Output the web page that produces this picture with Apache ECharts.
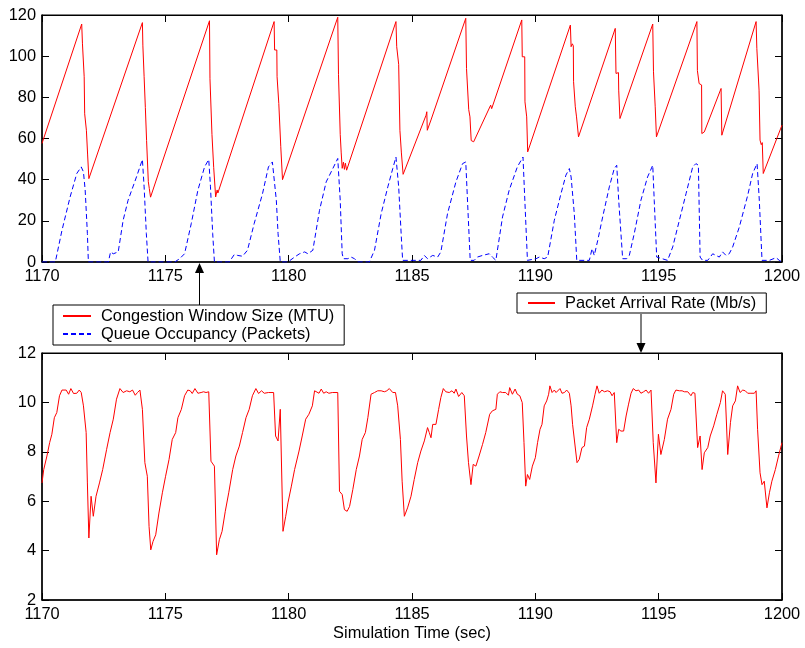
<!DOCTYPE html>
<html>
<head>
<meta charset="utf-8">
<script src="https://cdn.jsdelivr.net/npm/echarts@6/dist/echarts.min.js"></script>
<style>
html,body{margin:0;padding:0;background:#fff;}
#chart{width:805px;height:648px;}
</style>
</head>
<body>
<div id="chart"></div>
<script>
// ---- Data (time in sec, values) ----
const cwndData = [
[1170.00,57.6],[1171.61,115.6],[1171.63,116],[1171.64,106],[1171.70,106],[1171.71,90],[1171.73,72],[1171.79,72],[1171.80,64],[1171.84,64],[1171.85,52],[1171.88,52],[1171.90,40.5],[1171.92,40.3],
[1174.07,116.3],[1174.08,116],[1174.09,105],[1174.13,105],[1174.14,90],[1174.18,90],[1174.19,75],[1174.23,75],[1174.24,59],[1174.29,59],[1174.31,39],[1174.35,35.7],[1174.40,31.5],
[1176.79,117.2],[1176.80,117],[1176.81,89],[1176.88,89],[1176.89,62],[1176.95,62],[1176.96,46],[1177.02,46],[1177.04,31.6],[1177.07,31.6],[1177.10,35],[1177.13,33.5],
[1179.41,116.8],[1179.42,117],[1179.43,103],[1179.52,103],[1179.53,90],[1179.59,90],[1179.60,77],[1179.67,77],[1179.68,56],[1179.73,56],[1179.75,40],[1179.77,39.4],
[1181.99,118.9],[1182.01,119],[1182.02,91],[1182.08,91],[1182.09,62],[1182.12,62],[1182.13,53],[1182.16,53],[1182.17,45.5],[1182.22,48.5],[1182.26,45],[1182.30,48],[1182.35,44.6],
[1184.35,116.8],[1184.37,117],[1184.38,104.6],[1184.45,104.6],[1184.46,96],[1184.50,96],[1184.51,64],[1184.56,64],[1184.57,53],[1184.62,53],[1184.64,42.6],[1184.66,42.6],
[1185.57,71.3],[1185.60,73],[1185.62,64],[1185.67,64.5],[1185.77,69],
[1187.18,118.4],[1187.20,118.4],[1187.21,94],[1187.29,94],[1187.30,74],[1187.34,74],[1187.35,70.5],[1187.39,70.5],[1187.40,59],[1187.45,59.5],[1187.50,58.4],
[1188.19,76.2],[1188.23,74.5],
[1189.45,117.6],[1189.46,117.6],[1189.47,99.7],[1189.57,99.7],[1189.58,77.8],[1189.64,77.8],[1189.65,70.5],[1189.68,70.5],[1189.69,53.5],[1189.73,53.5],
[1191.42,115.1],[1191.44,115.5],[1191.45,104.6],[1191.50,106],[1191.54,105],[1191.55,87.6],[1191.61,87.6],[1191.62,75.4],[1191.66,75.4],[1191.67,70.5],[1191.71,71],[1191.74,70],[1191.75,60.8],[1191.78,61],
[1193.24,113.5],[1193.26,113.5],[1193.27,91.6],[1193.33,92.4],[1193.37,92],[1193.38,83.5],[1193.42,83.5],[1193.43,69.7],[1193.45,69.7],
[1194.76,115.6],[1194.78,115.6],[1194.79,92.4],[1194.85,92.4],[1194.86,75.4],[1194.90,75.4],[1194.91,60.8],[1194.93,60.8],
[1196.55,116.8],[1196.56,116.8],[1196.57,93],[1196.63,93],[1196.64,86.7],[1196.74,86],[1196.75,62.4],[1196.80,62.4],[1196.85,63.2],
[1197.53,84.3],[1197.55,84.3],[1197.56,61.6],[1197.60,61.6],
[1198.95,116.8],[1198.97,116.8],[1198.98,103.8],[1199.06,103],[1199.07,83.5],[1199.10,83.5],[1199.11,59.2],[1199.16,57],[1199.20,58],[1199.22,57.6],[1199.24,43],[1199.28,42.2],
[1200.00,66.5]
];
const queueData = [
[1170.00,0],[1170.54,0],[1170.81,15.4],[1171.14,31.6],[1171.41,43],[1171.59,46.2],[1171.68,43.8],[1171.75,35],[1171.84,13.8],[1171.88,0],
[1172.69,0],[1172.78,4.9],[1172.89,4],[1173.09,4.9],[1173.29,20.3],[1173.49,30],[1173.83,41.3],[1174.07,49.8],[1174.14,36.5],[1174.23,13.8],[1174.30,0],
[1175.38,0],[1175.58,1.6],[1175.78,4],[1176.05,18.6],[1176.32,34.9],[1176.59,46.2],[1176.76,49.8],[1176.83,36.5],[1176.92,13.8],[1176.99,0],
[1177.59,0],[1177.80,3.7],[1177.93,3.2],[1178.13,2.8],[1178.33,5.7],[1178.60,18.6],[1178.94,33.2],[1179.18,46.2],[1179.34,48.6],[1179.50,30],[1179.57,13.8],[1179.66,0],
[1179.97,0],[1180.24,2.4],[1180.44,4],[1180.65,4.9],[1180.78,4],[1180.98,5.7],[1181.25,25.1],[1181.52,38.9],[1181.79,45.4],[1181.99,50.3],[1182.09,30],[1182.17,4],[1182.22,1.6],[1182.40,1.6],[1182.53,2.4],[1182.67,1.6],[1182.80,0],
[1183.27,0],[1183.48,5.7],[1183.75,23.5],[1184.02,36.5],[1184.22,45.4],[1184.35,51],[1184.46,36.5],[1184.56,13.8],[1184.62,0.8],
[1185.36,0.8],[1185.50,3.2],[1185.63,1.6],[1185.84,3.2],[1186.04,2.4],[1186.17,4.9],[1186.44,23.5],[1186.78,38.9],[1187.05,47.8],[1187.18,48.6],[1187.28,21.9],[1187.36,0.8],
[1187.52,0.8],[1187.65,2.4],[1187.86,3.2],[1188.13,4],[1188.26,2.4],[1188.40,0.8],[1188.67,21.9],[1188.94,34.9],[1189.27,46.2],[1189.50,51],[1189.58,28.4],[1189.68,0.8],
[1189.76,1.6],[1190.03,1.6],[1190.16,2.4],[1190.36,1.6],[1190.50,2.4],[1190.77,20.3],[1191.04,33.2],[1191.24,42.2],[1191.38,45.4],[1191.45,41.3],[1191.58,23.5],[1191.68,0.8],
[1192.19,0.8],[1192.30,6.5],[1192.39,3.2],[1192.53,10.5],[1192.73,21.9],[1193.00,36.5],[1193.20,45.4],[1193.30,47],[1193.38,30],[1193.54,1.6],[1193.70,1.6],[1193.81,3.2],[1194.01,13.8],[1194.28,30],[1194.55,41.3],[1194.76,47],[1194.82,30],[1194.92,2.4],
[1195.36,0.8],[1195.57,7.3],[1195.84,20.3],[1196.11,33.2],[1196.38,46.2],[1196.51,47.8],[1196.61,47],[1196.68,2.4],[1196.78,0.8],[1196.99,0.8],[1197.19,4],[1197.32,3.2],[1197.46,2.4],[1197.59,4.9],[1197.73,3.2],[1197.86,4],[1198.00,7.3],[1198.27,17],[1198.61,32.4],[1198.81,43],[1198.99,47.8],[1199.08,30],[1199.19,0.8],
[1199.49,0.8],[1199.76,2.1],[1199.89,0.8],[1200.00,0]
];
const rateData = [
[1170.00,6.74],[1170.07,7.28],[1170.20,7.83],[1170.31,8.37],[1170.40,8.71],[1170.50,9.38],[1170.60,9.59],[1170.71,10.27],[1170.81,10.50],[1170.98,10.50],[1171.08,10.33],[1171.17,10.56],[1171.28,10.36],[1171.41,10.37],[1171.51,10.50],[1171.59,10.40],[1171.68,9.86],[1171.79,8.78],[1171.84,6.74],[1171.90,4.51],[1171.99,6.20],[1172.08,5.39],[1172.19,6.20],[1172.33,6.74],[1172.46,7.28],[1172.62,8.10],[1172.76,8.78],[1172.89,9.32],[1173.02,10.13],[1173.16,10.56],[1173.29,10.40],[1173.43,10.47],[1173.56,10.43],[1173.67,10.50],[1173.78,10.29],[1173.87,10.40],[1173.97,10.50],
[1174.07,9.72],[1174.17,7.56],[1174.27,7.01],[1174.34,4.98],[1174.41,4.03],[1174.50,4.37],[1174.61,4.64],[1174.74,5.52],[1174.88,6.34],[1175.01,7.01],[1175.15,7.69],[1175.28,8.50],[1175.42,8.78],[1175.51,9.38],[1175.65,9.72],[1175.78,10.27],[1175.91,10.50],[1176.01,10.47],[1176.09,10.36],[1176.20,10.56],[1176.32,10.37],[1176.45,10.40],[1176.55,10.43],[1176.65,10.40],[1176.76,10.43],
[1176.85,7.62],[1176.99,7.42],[1177.08,3.83],[1177.19,4.44],[1177.30,4.78],[1177.43,5.59],[1177.57,6.34],[1177.73,7.28],[1177.86,7.83],[1178.00,8.23],[1178.13,8.78],[1178.27,9.38],[1178.40,9.72],[1178.53,10.27],[1178.67,10.56],[1178.78,10.36],[1178.90,10.47],[1179.01,10.37],[1179.18,10.40],[1179.39,10.40],
[1179.47,8.64],[1179.57,8.44],[1179.60,8.44],[1179.66,9.72],[1179.77,4.78],[1179.88,5.39],[1179.97,5.93],[1180.11,6.61],[1180.24,7.28],[1180.42,8.03],[1180.55,8.64],[1180.69,9.32],[1180.82,9.52],[1180.96,9.86],[1181.05,10.47],[1181.12,10.54],[1181.23,10.37],[1181.32,10.54],[1181.42,10.37],[1181.52,10.43],[1181.63,10.37],[1181.77,10.40],[1181.99,10.40],
[1182.06,6.40],[1182.17,6.27],[1182.26,5.66],[1182.37,5.59],[1182.47,5.79],[1182.60,6.47],[1182.74,7.28],[1182.87,7.83],[1182.98,8.50],[1183.11,8.78],[1183.21,9.38],[1183.34,10.33],[1183.48,10.40],[1183.61,10.47],[1183.75,10.47],[1183.88,10.43],[1183.98,10.47],[1184.08,10.56],[1184.22,10.40],[1184.33,10.40],
[1184.42,9.86],[1184.53,8.50],[1184.60,6.81],[1184.69,5.39],[1184.82,5.73],[1184.96,6.20],[1185.09,6.88],[1185.23,7.56],[1185.36,8.03],[1185.50,8.44],[1185.63,8.98],[1185.70,8.78],[1185.77,8.57],[1185.84,9.11],[1185.90,9.05],[1185.97,9.11],[1186.08,9.72],[1186.17,10.20],[1186.27,10.56],[1186.37,10.43],[1186.51,10.40],[1186.62,10.47],[1186.71,10.37],[1186.78,10.54],[1186.89,10.24],[1187.02,10.40],[1187.12,10.27],
[1187.21,8.64],[1187.29,7.56],[1187.39,6.67],[1187.48,7.49],[1187.59,7.42],[1187.72,7.83],[1187.86,8.30],[1187.99,8.78],[1188.15,9.52],[1188.26,9.66],[1188.40,9.72],[1188.46,10.33],[1188.56,10.43],[1188.67,10.40],[1188.80,10.40],[1188.91,10.29],[1188.96,10.60],[1189.07,10.33],[1189.18,10.54],[1189.27,10.33],[1189.37,10.27],[1189.47,9.99],
[1189.54,8.37],[1189.61,6.61],[1189.68,7.08],[1189.77,6.88],[1189.88,7.42],[1190.00,7.76],[1190.09,8.37],[1190.19,8.91],[1190.27,9.11],[1190.36,9.86],[1190.46,10.06],[1190.54,10.33],[1190.59,10.67],[1190.68,10.40],[1190.77,10.50],[1190.84,10.40],[1190.91,10.40],[1191.00,10.56],[1191.08,10.37],[1191.18,10.40],[1191.27,10.50],[1191.38,10.37],
[1191.45,9.86],[1191.51,9.11],[1191.58,9.05],[1191.69,7.56],[1191.78,7.69],[1191.89,8.17],[1191.99,8.23],[1192.08,8.98],[1192.19,9.32],[1192.32,9.86],[1192.42,10.33],[1192.50,10.67],[1192.59,10.37],[1192.70,10.50],[1192.80,10.43],[1192.93,10.47],[1193.03,10.43],[1193.11,10.27],[1193.20,10.40],
[1193.30,8.37],[1193.38,8.91],[1193.47,8.84],[1193.58,8.84],[1193.68,9.45],[1193.78,9.93],[1193.88,10.37],[1193.97,10.56],[1194.08,10.47],[1194.19,10.50],[1194.28,10.37],[1194.39,10.43],[1194.49,10.50],[1194.59,10.37],[1194.69,10.50],
[1194.78,8.37],[1194.89,6.74],[1194.99,8.71],[1195.09,7.89],[1195.23,8.50],[1195.36,9.32],[1195.50,9.72],[1195.61,10.33],[1195.70,10.50],[1195.84,10.47],[1195.95,10.47],[1196.04,10.43],[1196.18,10.43],[1196.31,10.27],[1196.38,10.40],[1196.47,10.37],
[1196.58,8.17],[1196.68,8.64],[1196.76,7.28],[1196.85,7.96],[1196.99,8.17],[1197.09,8.64],[1197.23,9.05],[1197.36,9.52],[1197.50,9.99],[1197.59,10.47],[1197.70,10.33],
[1197.80,7.89],[1197.91,9.18],[1198.00,9.86],[1198.11,10.06],[1198.20,10.67],[1198.30,10.40],[1198.41,10.50],[1198.51,10.47],[1198.61,10.37],[1198.74,10.37],[1198.88,10.37],[1198.95,10.47],
[1199.01,8.91],[1199.11,7.15],[1199.19,6.67],[1199.28,6.81],[1199.39,5.73],[1199.49,6.34],[1199.59,6.81],[1199.73,7.28],[1199.86,7.83],[1200.00,8.37]
];
// ---- Axis ranges / labels ----
const timeRange = [1170, 1200, 5];
const topYRange = [0, 120, 20];
const bottomYRange = [2, 12, 2];
const seriesNames = ['Congestion Window Size (MTU)', 'Queue Occupancy (Packets)', 'Packet Arrival Rate (Mb/s)'];
const xAxisTitle = 'Simulation Time (sec)';

const FONT = '"Liberation Sans", Arial, Helvetica, sans-serif';
const FS = 16.4;
const plain = v => String(v);

function xAx(grid, pos, showLabel, extra) {
  return Object.assign({
    gridIndex: grid, type: 'value', position: pos,
    min: timeRange[0], max: timeRange[1], interval: timeRange[2],
    axisLine: { show: true, onZero: false, lineStyle: { color: '#000', width: pos === 'top' ? 1 : 1.5 } },
    axisTick: { show: true, inside: true, length: 7, lineStyle: { color: '#000', width: 1 } },
    axisLabel: { show: showLabel, color: '#000', fontSize: FS, fontFamily: FONT, margin: 6, formatter: plain },
    splitLine: { show: false }
  }, extra || {});
}
function yAx(grid, pos, range, showLabel) {
  return {
    gridIndex: grid, type: 'value', position: pos,
    min: range[0], max: range[1], interval: range[2],
    axisLine: { show: true, onZero: false, lineStyle: { color: '#000', width: 1.5 } },
    axisTick: { show: true, inside: true, length: 7, lineStyle: { color: '#000', width: 1 } },
    axisLabel: { show: showLabel, color: '#000', fontSize: FS, fontFamily: FONT, margin: 6, formatter: plain },
    splitLine: { show: false }
  };
}

const chart = echarts.init(document.getElementById('chart'), null, { renderer: 'canvas' });
chart.setOption({
  animation: false,
  backgroundColor: '#fff',
  grid: [
    { left: 42, top: 15, width: 740, height: 247, show: true, borderColor: '#000', borderWidth: 1 },
    { left: 42, top: 353, width: 740, height: 247, show: true, borderColor: '#000', borderWidth: 1 }
  ],
  xAxis: [
    xAx(0, 'bottom', true),
    xAx(0, 'top', false),
    xAx(1, 'bottom', true, { name: xAxisTitle, nameLocation: 'middle', nameGap: 25,
      nameTextStyle: { color: '#000', fontSize: FS, fontFamily: FONT } }),
    xAx(1, 'top', false)
  ],
  yAxis: [
    yAx(0, 'left', topYRange, true),
    yAx(0, 'right', topYRange, false),
    yAx(1, 'left', bottomYRange, true),
    yAx(1, 'right', bottomYRange, false)
  ],
  legend: [
    {
      data: [seriesNames[0], seriesNames[1]], orient: 'vertical', left: 53, top: 305,
      borderColor: '#000', borderWidth: 1, backgroundColor: '#fff', borderRadius: 0,
      padding: [3, 10, 3, 9], itemGap: 2, itemWidth: 28, itemHeight: 16,
      itemStyle: { opacity: 0 },
      textStyle: { color: '#000', fontSize: FS, fontFamily: FONT, padding: [0, 0, 0, 5] },
      selectedMode: false
    },
    {
      data: [seriesNames[2]], orient: 'horizontal', left: 517, top: 293,
      borderColor: '#000', borderWidth: 1, backgroundColor: '#fff', borderRadius: 0,
      padding: [2, 10, 2, 10], itemWidth: 27, itemHeight: 16,
      itemStyle: { opacity: 0 },
      textStyle: { color: '#000', fontSize: FS, fontFamily: FONT, padding: [0, 0, 0, 5] },
      selectedMode: false
    }
  ],
  graphic: [
    { type: 'line', z: 100, shape: { x1: 199.5, y1: 305, x2: 199.5, y2: 272 }, style: { stroke: '#000', lineWidth: 1 } },
    { type: 'polygon', z: 100, shape: { points: [[195, 273], [204, 273], [199.5, 263]] }, style: { fill: '#000' } },
    { type: 'line', z: 100, shape: { x1: 641, y1: 314, x2: 641, y2: 344 }, style: { stroke: '#000', lineWidth: 1 } },
    { type: 'polygon', z: 100, shape: { points: [[636.5, 343], [645.5, 343], [641, 353]] }, style: { fill: '#000' } }
  ],
  series: [
    { name: seriesNames[0], type: 'line', xAxisIndex: 0, yAxisIndex: 0, data: cwndData, symbol: 'none',
      color: '#ff0000', lineStyle: { color: '#ff0000', width: 1 } },
    { name: seriesNames[1], type: 'line', xAxisIndex: 0, yAxisIndex: 0, data: queueData, symbol: 'none',
      color: '#0000ff', lineStyle: { color: '#0000ff', width: 1, type: [5, 3] } },
    { name: seriesNames[2], type: 'line', xAxisIndex: 2, yAxisIndex: 2, data: rateData, symbol: 'none',
      color: '#ff0000', lineStyle: { color: '#ff0000', width: 1 } }
  ]
});
</script>
</body>
</html>
